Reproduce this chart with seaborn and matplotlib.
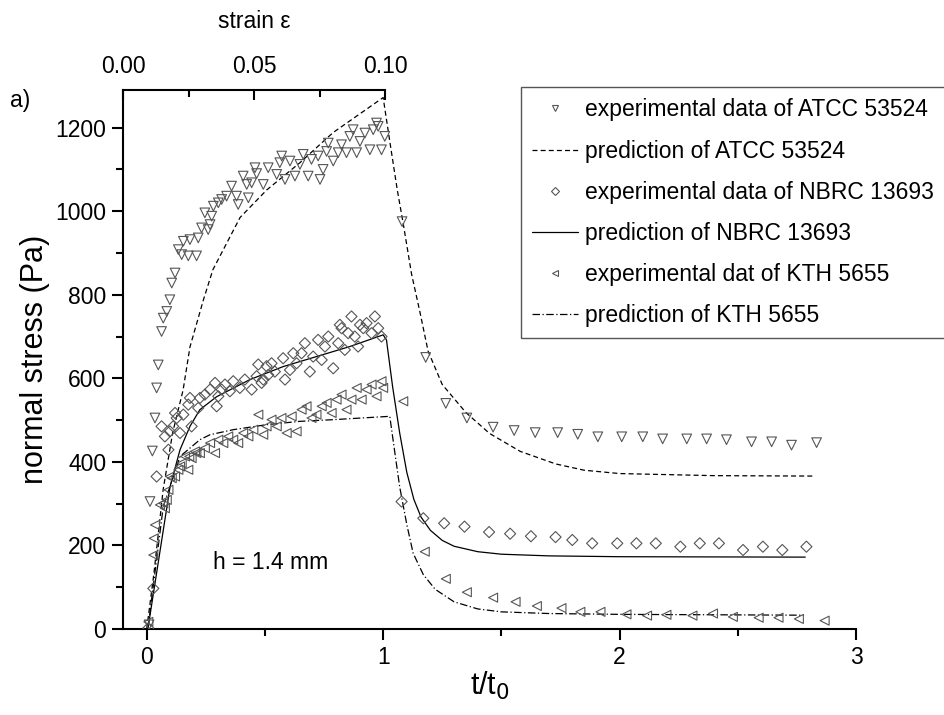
import matplotlib
matplotlib.use("Agg")
import matplotlib.pyplot as plt
import seaborn as sns
import pandas as pd
from matplotlib.lines import Line2D
from matplotlib.ticker import MultipleLocator, FormatStrFormatter

# --- Data ---
# ATCC 53524 experimental: t/t0, normal stress (Pa)
atcc_t = [0.01, 0.014, 0.024, 0.035, 0.042, 0.049, 0.063, 0.07, 0.085, 0.098, 0.106, 0.12,
          0.134, 0.148, 0.155, 0.176, 0.183, 0.211, 0.218, 0.232, 0.246, 0.26, 0.268, 0.275,
          0.282, 0.303, 0.317, 0.338, 0.359, 0.38, 0.387, 0.408, 0.423, 0.43, 0.444, 0.458,
          0.465, 0.493, 0.514, 0.55, 0.563, 0.571, 0.585, 0.606, 0.627, 0.648, 0.662, 0.683,
          0.697, 0.725, 0.733, 0.746, 0.761, 0.768, 0.789, 0.81, 0.824, 0.845, 0.859, 0.873,
          0.888, 0.902, 0.923, 0.944, 0.958, 0.972, 0.979, 0.993, 1.007,
          1.08, 1.18, 1.265, 1.354, 1.465, 1.554, 1.643, 1.738, 1.823, 1.908, 2.009, 2.098,
          2.182, 2.284, 2.368, 2.452, 2.558, 2.643, 2.727, 2.833]
atcc_s = [10, 305, 426, 505, 577, 632, 712, 744, 760, 788, 828, 852,
          908, 896, 928, 893, 932, 893, 936, 960, 996, 956, 968, 988,
          1012, 1020, 1028, 1036, 1060, 1036, 1016, 1084, 1064, 1032, 1068, 1104,
          1090, 1064, 1104, 1088, 1116, 1132, 1076, 1120, 1084, 1112, 1136, 1084,
          1124, 1132, 1076, 1100, 1143, 1163, 1120, 1140, 1159, 1140, 1179, 1195,
          1140, 1167, 1187, 1147, 1195, 1211, 1203, 1147, 1179,
          975, 650, 540, 505, 483, 475, 470, 470, 466, 460, 460, 460,
          455, 455, 455, 453, 448, 448, 440, 446]

# NBRC 13693 experimental
nbrc_t = [0.007, 0.028, 0.042, 0.063, 0.077, 0.092, 0.098, 0.112, 0.12, 0.127, 0.141, 0.155,
          0.176, 0.183, 0.19, 0.218, 0.225, 0.246, 0.268, 0.289, 0.296, 0.303, 0.317, 0.331,
          0.352, 0.366, 0.394, 0.415, 0.444, 0.465, 0.472, 0.486, 0.493, 0.507, 0.514, 0.528,
          0.542, 0.577, 0.585, 0.606, 0.62, 0.634, 0.655, 0.669, 0.69, 0.704, 0.725, 0.74,
          0.754, 0.768, 0.789, 0.81, 0.817, 0.824, 0.838, 0.852, 0.866, 0.88, 0.894, 0.902,
          0.916, 0.93, 0.951, 0.965, 0.979, 0.993,
          1.078, 1.17, 1.258, 1.344, 1.448, 1.537, 1.625, 1.729, 1.80, 1.884, 1.99, 2.071,
          2.153, 2.257, 2.339, 2.42, 2.522, 2.606, 2.688, 2.79]
nbrc_s = [2, 97, 365, 485, 461, 429, 473, 485, 517, 505, 469, 513,
          537, 553, 485, 529, 553, 561, 573, 589, 533, 557, 573, 585,
          569, 593, 577, 597, 573, 605, 633, 589, 597, 629, 608, 636,
          616, 648, 597, 620, 660, 636, 660, 684, 616, 652, 692, 644,
          676, 700, 624, 684, 728, 720, 668, 708, 748, 700, 676, 728,
          720, 732, 708, 748, 720, 700,
          305, 265, 253, 245, 232, 228, 222, 220, 213, 205, 205, 205,
          205, 197, 205, 205, 189, 197, 189, 197]

# KTH 5655 experimental
kth_t = [0.007, 0.028, 0.03, 0.035, 0.056, 0.07, 0.077, 0.085, 0.092, 0.098, 0.106, 0.12,
         0.134, 0.141, 0.148, 0.162, 0.176, 0.18, 0.19, 0.204, 0.21, 0.225, 0.246, 0.268,
         0.289, 0.303, 0.324, 0.345, 0.366, 0.387, 0.408, 0.43, 0.451, 0.472, 0.493, 0.507,
         0.528, 0.55, 0.57, 0.592, 0.613, 0.634, 0.655, 0.676, 0.697, 0.718, 0.74, 0.761,
         0.782, 0.803, 0.824, 0.845, 0.866, 0.888, 0.909, 0.93, 0.951, 0.972, 0.993, 1.0,
         1.085, 1.176, 1.265, 1.354, 1.465, 1.56, 1.65, 1.754, 1.834, 1.919, 2.029, 2.116,
         2.198, 2.308, 2.395, 2.479, 2.588, 2.672, 2.758, 2.867]
kth_s = [17, 177, 217, 249, 297, 301, 289, 309, 333, 365, 361, 365,
         381, 389, 397, 413, 381, 413, 409, 425, 421, 421, 433, 445,
         421, 453, 445, 461, 453, 445, 469, 461, 477, 513, 465, 485,
         501, 485, 505, 469, 509, 473, 525, 533, 505, 513, 533, 541,
         517, 549, 561, 525, 549, 577, 549, 573, 585, 557, 593, 577,
         545, 185, 120, 88, 75, 65, 55, 50, 41, 41, 35, 32,
         34, 32, 37, 29, 27, 27, 24, 20]

# model predictions
atcc_pred_t = [0, 0.03, 0.07, 0.11, 0.154, 0.183, 0.24, 0.28, 0.395, 0.508, 0.648, 0.788, 1.0,
               1.03, 1.06, 1.085, 1.12, 1.155, 1.19, 1.25, 1.35, 1.45, 1.58, 1.73, 1.85, 2.0,
               2.4, 2.816]
atcc_pred_s = [0, 130, 335, 470, 572, 675, 788, 860, 985, 1051, 1116, 1188, 1272,
               1160, 1050, 970, 850, 760, 665, 585, 518, 468, 425, 395, 380, 372,
               367, 366]
nbrc_pred_t = [0.005, 0.099, 0.141, 0.183, 0.225, 0.296, 0.437, 0.577, 0.718, 0.859, 1.0,
               1.014, 1.04, 1.07, 1.1, 1.13, 1.16, 1.2, 1.25, 1.3, 1.4, 1.5, 1.7, 2.0, 2.785]
nbrc_pred_s = [0, 341, 429, 485, 525, 556, 597, 628, 652, 676, 704,
               692, 580, 469, 375, 310, 268, 236, 212, 198, 185, 179, 175, 173, 172]
kth_pred_t = [0.005, 0.07, 0.141, 0.225, 0.268, 0.366, 0.507, 0.648, 0.789, 1.028,
              1.05, 1.07, 1.1, 1.127, 1.17, 1.22, 1.3, 1.4, 1.5, 1.7, 2.0, 2.4, 2.78]
kth_pred_s = [0, 293, 413, 453, 465, 477, 489, 497, 501, 509,
              420, 340, 250, 181, 130, 95, 65, 48, 41, 37, 35, 34, 33]

labels = ['experimental data of ATCC 53524', 'prediction of ATCC 53524',
          'experimental data of NBRC 13693', 'prediction of NBRC 13693',
          'experimental dat of KTH 5655', 'prediction of KTH 5655']

# --- Style ---
sns.set_theme(style="ticks")
plt.rcParams['font.family'] = ['Liberation Sans', 'DejaVu Sans']
plt.rcParams['axes.linewidth'] = 1.5
plt.rcParams['text.color'] = 'black'
plt.rcParams['axes.labelcolor'] = 'black'
plt.rcParams['axes.edgecolor'] = 'black'

fig = plt.figure(figsize=(9.45, 7.15), dpi=100)
ax = fig.add_axes([0.1302, 0.1203, 0.7757, 0.7538])

mk_col = '#555555'
dash = (4, 2.5)
dashdot = (6, 2, 1, 2)

sns.scatterplot(x=atcc_t, y=atcc_s, marker='v', s=48, facecolor='none',
                edgecolor=mk_col, linewidth=0.8, ax=ax, zorder=3)
sns.scatterplot(x=nbrc_t, y=nbrc_s, marker='D', s=32, facecolor='none',
                edgecolor=mk_col, linewidth=0.8, ax=ax, zorder=3)
sns.scatterplot(x=kth_t, y=kth_s, marker='<', s=42, facecolor='none',
                edgecolor=mk_col, linewidth=0.8, ax=ax, zorder=3)

sns.lineplot(x=atcc_pred_t, y=atcc_pred_s, color='black', lw=0.9, ax=ax,
             sort=False, estimator=None).lines[-1].set_dashes(dash)
sns.lineplot(x=nbrc_pred_t, y=nbrc_pred_s, color='black', lw=0.9, ax=ax,
             sort=False, estimator=None)
sns.lineplot(x=kth_pred_t, y=kth_pred_s, color='black', lw=0.9, ax=ax,
             sort=False, estimator=None).lines[-1].set_dashes(dashdot)

# --- Axes ---
ax.set_xlim(-0.1, 3.0)
ax.set_ylim(0, 1290)
ax.xaxis.set_major_locator(MultipleLocator(1))
ax.xaxis.set_minor_locator(MultipleLocator(0.5))
ax.yaxis.set_major_locator(MultipleLocator(200))
ax.yaxis.set_minor_locator(MultipleLocator(100))
ax.tick_params(axis='both', which='major', direction='out', length=8, width=1.5,
               labelsize=16.5, pad=4, colors='black')
ax.tick_params(axis='both', which='minor', direction='out', length=5, width=1.5,
               colors='black')
ax.spines['right'].set_visible(False)
ax.spines['top'].set_visible(False)
ax.set_xlabel('t/t$_0$', fontsize=22, labelpad=1)
ax.set_ylabel('normal stress (Pa)', fontsize=22, labelpad=4)
ax.text(0.525, 158, 'h = 1.4 mm', fontsize=16.5, ha='center', va='center')

# top strain axis spanning t/t0 = -0.1 ... 1
ax_top = fig.add_axes([0.1302, 0.1203, 0.2772, 0.7538])
ax_top.patch.set_alpha(0)
ax_top.set_xlim(0, 0.10)
for side in ['left', 'right', 'bottom']:
    ax_top.spines[side].set_visible(False)
ax_top.set_yticks([])
ax_top.xaxis.tick_top()
ax_top.xaxis.set_label_position('top')
ax_top.xaxis.set_major_locator(MultipleLocator(0.05))
ax_top.xaxis.set_minor_locator(MultipleLocator(0.025))
ax_top.xaxis.set_major_formatter(FormatStrFormatter('%.2f'))
ax_top.tick_params(axis='x', which='major', direction='in', length=7.5, width=1.5,
                   labelsize=16.5, pad=9, colors='black')
ax_top.tick_params(axis='x', which='minor', direction='in', length=5, width=1.5,
                   colors='black')
ax_top.set_xlabel('strain ε', fontsize=16.5, labelpad=19)

fig.text(10 / 945, 1 - 100 / 715, 'a)', fontsize=16.5, ha='left', va='center')

# --- Legend ---
handles = [
    Line2D([], [], ls='none', marker='v', ms=5, mfc='none', mec=mk_col, mew=0.8),
    Line2D([], [], color='black', lw=0.9, dashes=dash),
    Line2D([], [], ls='none', marker='D', ms=4.5, mfc='none', mec=mk_col, mew=0.8),
    Line2D([], [], color='black', lw=0.9),
    Line2D([], [], ls='none', marker='<', ms=5, mfc='none', mec=mk_col, mew=0.8),
    Line2D([], [], color='black', lw=0.9, dashes=dashdot),
]
leg = fig.legend(handles, labels, loc='upper left',
                 bbox_to_anchor=(521 / 945, 1 - 87 / 715), fontsize=16.5,
                 frameon=True, fancybox=False, edgecolor='#555555', framealpha=1,
                 handlelength=2.0, handletextpad=0.3, labelspacing=0.79,
                 borderpad=0.5, borderaxespad=0)
leg.get_frame().set_linewidth(1.0)

fig.savefig('out.png', dpi=100)
